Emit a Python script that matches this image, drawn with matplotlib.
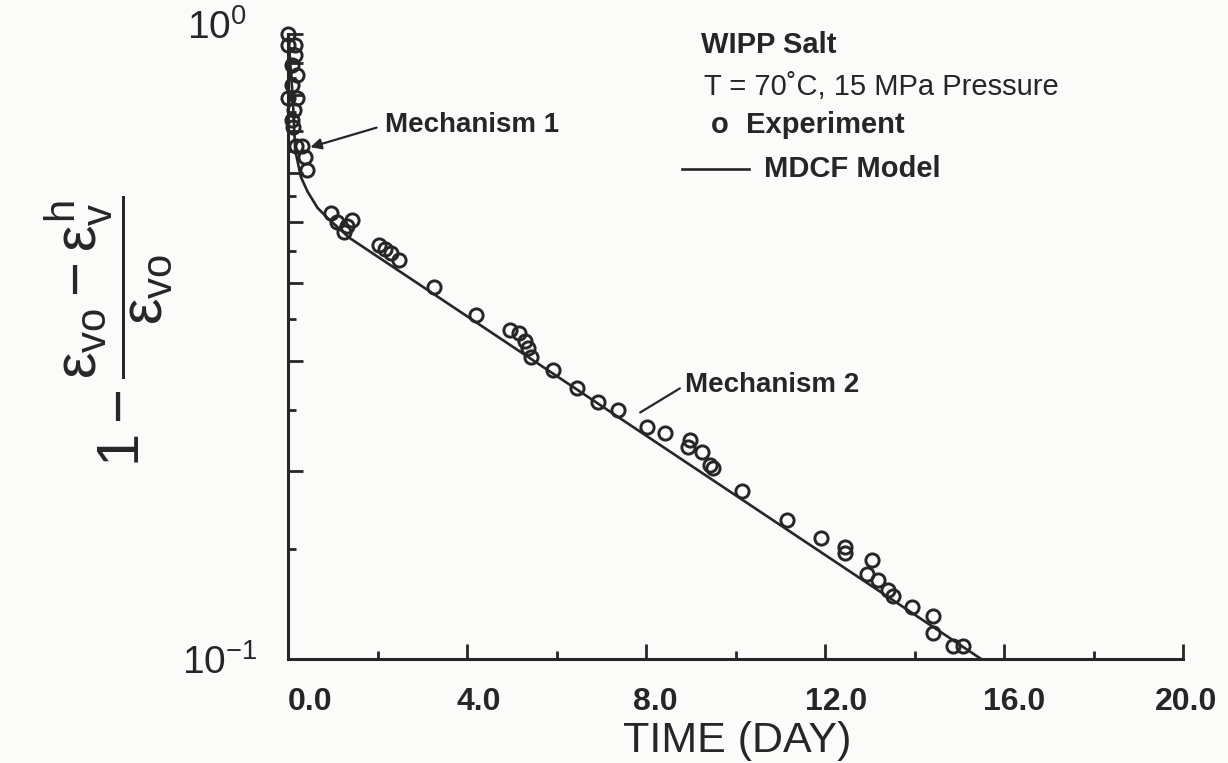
"""Volumetric creep recovery of WIPP salt: experiment vs. MDCF model."""
import numpy as np
import matplotlib
matplotlib.use("Agg")
import matplotlib.pyplot as plt
from matplotlib.ticker import FixedLocator, FixedFormatter, NullFormatter
from matplotlib.transforms import ScaledTranslation

plt.rcParams["font.family"] = ["Liberation Sans", "DejaVu Sans"]
plt.rcParams["mathtext.fontset"] = "custom"
plt.rcParams["mathtext.rm"] = "Liberation Sans"
plt.rcParams["mathtext.it"] = "Liberation Sans"

INK = "#262626"
PAPER = "#fbfbf9"

# measured points (time in days, normalised strain ratio)
exp_t = [0.00, 0.00, 0.15, 0.15, 0.08, 0.19, 0.10, 0.00, 0.19, 0.13, 0.08, 0.12,
         0.18, 0.31, 0.37, 0.43, 0.95, 1.10, 1.32, 1.44, 1.26, 2.03, 2.16, 2.30,
         2.47, 3.27, 4.20, 4.95, 5.16, 5.29, 5.36, 5.42, 5.93, 6.46, 6.92, 7.37,
         8.02, 8.42, 8.98, 8.93, 9.25, 9.43, 9.50, 10.14, 11.14, 11.92, 12.44,
         12.44, 13.04, 12.93, 13.18, 13.40, 13.51, 13.94, 14.41, 14.41, 14.86, 15.09]
exp_y = [1.000, 0.960, 0.960, 0.926, 0.892, 0.860, 0.830, 0.790, 0.790, 0.756, 0.728, 0.710,
         0.662, 0.662, 0.635, 0.606, 0.517, 0.500, 0.493, 0.504, 0.482, 0.459, 0.453, 0.447,
         0.435, 0.394, 0.355, 0.336, 0.332, 0.323, 0.315, 0.304, 0.290, 0.271, 0.258, 0.250,
         0.235, 0.230, 0.224, 0.218, 0.214, 0.204, 0.202, 0.186, 0.167, 0.156, 0.151,
         0.148, 0.144, 0.137, 0.134, 0.129, 0.126, 0.121, 0.117, 0.110, 0.105, 0.105]

# MDCF model curve
model_t = [0.00, 0.05, 0.11, 0.16, 0.29, 0.44, 0.66, 0.88, 1.37, 15.49]
model_y = [1.000, 0.900, 0.784, 0.652, 0.590, 0.559, 0.527, 0.508, 0.472, 0.100]

x_ticks = [0, 4, 8, 12, 16, 20]
x_minor = [2, 6, 10, 14, 18]
x_labels = ["0.0", "4.0", "8.0", "12.0", "16.0", "20.0"]
y_major = [0.1, 0.2, 0.3, 0.4, 0.5, 0.6, 0.7, 0.8, 0.9, 1.0]
y_minor = [0.15, 0.25, 0.35, 0.45, 0.55, 0.65, 0.75, 0.85, 0.95]
y_labels = [r"$10^{-1}$"] + [""] * 8 + [r"$10^{0}$"]

fig = plt.figure(figsize=(12.28, 7.63), dpi=100, facecolor=PAPER)
ax = fig.add_axes([288 / 1228, 104 / 763, 895 / 1228, 625 / 763])
ax.set_facecolor(PAPER)

ax.plot(model_t, model_y, color=INK, lw=1.9, zorder=2)
ax.plot(exp_t, exp_y, "o", ms=9.5, mfc="none", mec=INK, mew=2.1, clip_on=False, zorder=3)

ax.set_yscale("log")
ax.set_xlim(0, 20)
ax.set_ylim(0.1, 1.0)

ax.xaxis.set_major_locator(FixedLocator(x_ticks))
ax.xaxis.set_minor_locator(FixedLocator(x_minor))
ax.xaxis.set_major_formatter(FixedFormatter(x_labels))
ax.yaxis.set_major_locator(FixedLocator(y_major))
ax.yaxis.set_minor_locator(FixedLocator(y_minor))
ax.yaxis.set_major_formatter(FixedFormatter(y_labels))
ax.yaxis.set_minor_formatter(NullFormatter())

ax.tick_params(which="both", direction="in", color=INK, width=2.0)
ax.tick_params(axis="x", which="major", length=11, pad=20, labelsize=23, labelcolor=INK)
ax.tick_params(axis="x", which="minor", length=6)
ax.tick_params(axis="y", which="major", length=11, pad=26, labelsize=28, labelcolor=INK)
ax.tick_params(axis="y", which="minor", length=6)
for lab in ax.get_xticklabels():
    lab.set_fontweight("bold")

# tick labels sit a little to the right of their ticks
for lab, dx in zip(ax.get_xticklabels(), [22, 12, 9, 11, 10, 3]):
    lab.set_transform(lab.get_transform() + ScaledTranslation(dx / 100, 0, fig.dpi_scale_trans))
top_lab = ax.get_yticklabels()[-1]
top_lab.set_transform(top_lab.get_transform() + ScaledTranslation(-0.05, 0.10, fig.dpi_scale_trans))
bot_lab = ax.get_yticklabels()[0]
bot_lab.set_transform(bot_lab.get_transform() + ScaledTranslation(0.05, 0.0, fig.dpi_scale_trans))

for side in ("top", "right"):
    ax.spines[side].set_visible(False)
for side in ("left", "bottom"):
    ax.spines[side].set_linewidth(2.2)
    ax.spines[side].set_color(INK)

ax.set_xlabel("TIME (DAY)", fontsize=31, color=INK, va="center")
ax.xaxis.set_label_coords(0.502, -0.131)
ax.set_ylabel(r"$1 - \dfrac{\varepsilon_{vo} - \varepsilon_{v}^{h}}{\varepsilon_{vo}}$",
              fontsize=43, color=INK, va="center")
ax.yaxis.set_label_coords(-0.2, 0.525)

# mechanism call-outs
ax.annotate("Mechanism 1", xy=(0.50, 0.659), xycoords="data",
            xytext=(0.108, 0.854), textcoords="axes fraction",
            ha="left", va="center", fontsize=20, fontweight="bold", color=INK,
            arrowprops=dict(arrowstyle="-|>", color=INK, lw=1.6, relpos=(0, 0.5),
                            shrinkA=4, shrinkB=0, mutation_scale=16))
ax.annotate("Mechanism 2", xy=(7.87, 0.248), xycoords="data",
            xytext=(0.4436, 0.438), textcoords="axes fraction",
            ha="left", va="center", fontsize=20, fontweight="bold", color=INK,
            arrowprops=dict(arrowstyle="-", color=INK, lw=1.6, relpos=(0, 0.5),
                            shrinkA=2, shrinkB=0))

# legend block
leg_kw = dict(transform=ax.transAxes, va="center", ha="left", color=INK, fontsize=21)
ax.text(0.462, 0.982, "WIPP Salt", fontweight="bold", **leg_kw)
ax.text(0.465, 0.915, "T = 70\u02daC, 15 MPa Pressure", **leg_kw)
ax.text(0.472, 0.854, "o", fontweight="bold", **leg_kw)
ax.text(0.512, 0.854, "Experiment", fontweight="bold", **leg_kw)
ax.plot([0.440, 0.515], [0.784, 0.784], color=INK, lw=1.9, transform=ax.transAxes,
        clip_on=False)
ax.text(0.532, 0.784, "MDCF Model", fontweight="bold", **leg_kw)

fig.savefig("out.png", dpi=100, facecolor=PAPER)
